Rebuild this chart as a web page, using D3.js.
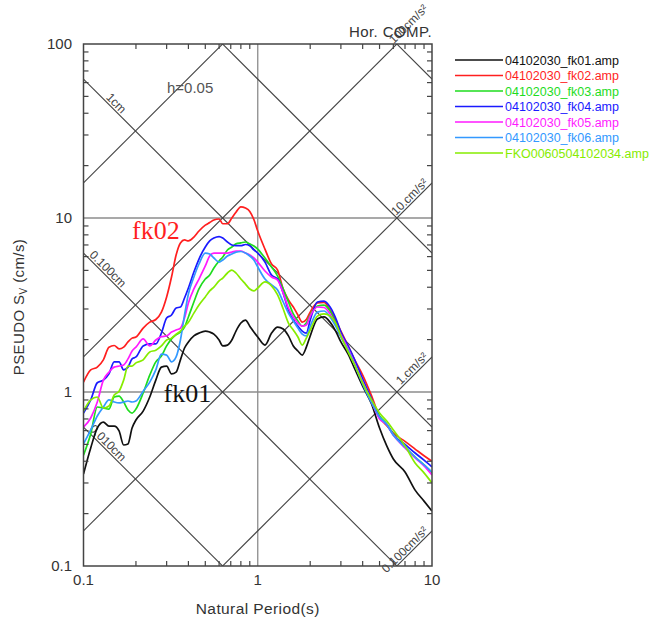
<!DOCTYPE html>
<html>
<head>
<meta charset="utf-8">
<script src="https://cdn.jsdelivr.net/npm/d3@7"></script>
<style>
	body { margin: 0; background: #fff; }
	svg { display: block; font-family: "Liberation Sans", Arial, sans-serif; }
</style>
</head>
<body>
<svg id="chart" width="649" height="617"></svg>
<script>
// natural periods (s) shared by every spectrum
const periods = [0.10, 0.11, 0.12, 0.13, 0.14, 0.15, 0.16, 0.17, 0.18, 0.19, 0.20,
	0.22, 0.24, 0.26, 0.28, 0.30, 0.32, 0.34, 0.36, 0.38, 0.40,
	0.43, 0.46, 0.50, 0.53, 0.56, 0.60, 0.63, 0.67, 0.71, 0.75, 0.80, 0.85, 0.90, 0.95,
	1.0, 1.1, 1.2, 1.3, 1.4, 1.5, 1.6, 1.7, 1.8, 1.9, 2.0,
	2.2, 2.4, 2.6, 2.8, 3.0,
	3.3, 3.6, 4.0, 4.5, 5.0, 5.5, 6.0,
	7.0, 8.0, 9.0, 10.0];

// pseudo velocity response (cm/s)
const fk01 = [0.338, 0.477, 0.621, 0.672, 0.637, 0.637, 0.597, 0.496, 0.503, 0.621, 0.69,
	0.777, 0.936, 1.17, 1.39, 1.41, 1.27, 1.30, 1.53, 1.79, 1.94,
	2.10, 2.18, 2.24, 2.21, 2.15, 1.99, 1.84, 1.86, 1.99, 2.24, 2.49, 2.59, 2.39, 2.21,
	2.07, 1.86, 2.18, 2.36, 2.30, 2.10, 1.84, 1.72, 1.63, 1.81, 2.10,
	2.63, 2.70, 2.52, 2.24, 1.94,
	1.65, 1.36, 1.08, 0.853, 0.621, 0.49, 0.412,
	0.347, 0.273, 0.236, 0.207];
const fk02 = [1.14, 1.34, 1.39, 1.53, 1.81, 1.85, 1.77, 1.81, 1.94, 2.04, 2.07,
	2.33, 2.52, 2.61, 2.88, 3.52, 4.58, 6.13, 7.19, 7.48, 7.38,
	7.77, 8.42, 9.1, 9.42, 9.74, 9.87, 9.27, 9.27, 10.0, 10.8, 11.6, 11.4, 10.9, 9.8,
	8.42, 6.63, 5.44, 5.02, 3.9, 3.38, 3.08, 2.77, 2.52, 2.61, 2.88,
	3.25, 3.27, 2.96, 2.59, 2.24,
	1.84, 1.53, 1.25, 0.95, 0.72, 0.64, 0.58,
	0.52, 0.47, 0.43, 0.40];
const fk03 = [0.434, 0.574, 0.82, 0.809, 0.798, 0.936, 0.948, 0.876, 0.788, 0.757, 0.798,
	0.987, 1.25, 1.49, 1.61, 1.84, 2.02, 2.13, 2.21, 2.36, 2.70,
	3.29, 3.91, 4.46, 4.70, 5.16, 5.66, 5.97, 6.55, 6.81, 7.10, 7.19, 7.28, 7.10, 6.90,
	6.63, 5.89, 5.23, 4.64, 3.91, 3.29, 2.81, 2.56, 2.39, 2.49, 2.77,
	3.12, 3.16, 2.92, 2.49, 2.15,
	1.74, 1.43, 1.13, 0.888, 0.728, 0.655, 0.574,
	0.483, 0.423, 0.381, 0.343];
const fk04 = [0.757, 0.90, 1.13, 1.17, 1.27, 1.49, 1.49, 1.34, 1.39, 1.55, 1.59,
	1.84, 1.89, 1.89, 2.18, 2.66, 2.77, 3.04, 3.08, 3.47, 3.96,
	4.89, 5.81, 6.81, 7.38, 7.67, 7.82, 7.67, 7.28, 6.99, 6.93, 6.93, 7.04, 6.93, 6.55,
	6.29, 5.58, 4.70, 4.46, 3.70, 2.96, 2.59, 2.39, 2.24, 2.18, 2.59,
	3.29, 3.33, 3.08, 2.66, 2.21,
	1.84, 1.53, 1.19, 0.91, 0.71, 0.65, 0.566,
	0.50, 0.446, 0.406, 0.371];
const fk05 = [0.629, 0.709, 0.876, 1.17, 1.30, 1.39, 1.41, 1.43, 1.55, 1.72, 1.81,
	2.02, 1.84, 1.99, 2.08, 2.10, 2.21, 2.27, 2.33, 2.66, 3.25,
	3.91, 4.46, 5.30, 6.05, 6.29, 6.29, 6.29, 6.29, 6.37, 6.46, 6.46, 6.29, 6.13, 5.89,
	5.58, 4.96, 4.58, 4.40, 3.70, 3.04, 2.70, 2.49, 2.39, 2.43, 2.73,
	3.08, 3.06, 2.81, 2.43, 2.13,
	1.77, 1.45, 1.14, 0.876, 0.70, 0.65, 0.566,
	0.477, 0.418, 0.376, 0.333];
const fk06 = [0.503, 0.605, 0.728, 0.82, 0.90, 0.876, 0.865, 0.876, 0.888, 0.876, 0.888,
	1.01, 1.14, 1.34, 1.65, 1.63, 1.49, 1.59, 1.99, 2.77, 3.66,
	4.58, 5.44, 6.29, 6.21, 5.89, 5.58, 5.74, 6.05, 6.21, 6.37, 6.42, 6.29, 6.05, 5.74,
	5.23, 4.46, 4.12, 3.86, 3.29, 2.84, 2.56, 2.33, 2.15, 2.10, 2.39,
	2.88, 2.92, 2.70, 2.39, 2.07,
	1.74, 1.43, 1.11, 0.865, 0.718, 0.65, 0.566,
	0.483, 0.423, 0.381, 0.347];
const fko006 = [0.777, 0.90, 0.936, 0.809, 0.831, 0.961, 1.01, 1.17, 1.41, 1.41, 1.47,
	1.53, 1.70, 1.74, 1.84, 1.99, 2.04, 2.15, 2.24, 2.39, 2.52,
	2.84, 3.16, 3.52, 3.81, 4.01, 4.35, 4.52, 4.83, 5.02, 4.83, 4.46, 4.17, 3.91, 3.81,
	3.96, 4.29, 4.07, 3.61, 3.00, 2.49, 2.27, 2.07, 1.86, 2.04, 2.27,
	2.73, 2.81, 2.73, 2.49, 2.10,
	1.70, 1.43, 1.13, 0.90, 0.757, 0.681, 0.605,
	0.49, 0.391, 0.343, 0.30];

const seriesNames = ['04102030_fk01.amp', '04102030_fk02.amp', '04102030_fk03.amp',
	'04102030_fk04.amp', '04102030_fk05.amp', '04102030_fk06.amp', 'FKO0060504102034.amp'];
const seriesValues = [fk01, fk02, fk03, fk04, fk05, fk06, fko006];

// tripartite guide lines
const dispLevels = [0.01, 0.1, 1, 10, 100];          // cm
const dispTexts = ['0.010cm', '0.100cm', '1cm', '', ''];
const accLevels = [0.1, 1, 10, 100, 1000];           // cm/s2
const accTexts = ['0.100cm/s\u00b2', '1.cm/s\u00b2', '10.cm/s\u00b2', '100cm/s\u00b2', ''];

const periodTicks = [0.1, 1, 10];
const velocityTicks = [0.1, 1, 10, 100];

const colors = ['#111111', '#ff1f1f', '#1edc1e', '#1a1aff', '#ff1aff', '#3399ff', '#86ec00'];

const svg = d3.select('#chart');
const pLeft = 83.5, pRight = 432, pTop = 44, pBottom = 566;

const x = d3.scaleLog().domain([0.1, 10]).range([pLeft, pRight]);
const y = d3.scaleLog().domain([0.1, 100]).range([pBottom, pTop]);

function minorTicks(lo, hi) {
	const out = [];
	for (let e = Math.floor(Math.log10(lo)); e < Math.log10(hi); e++) {
		for (let k = 2; k <= 9; k++) {
			const v = k * Math.pow(10, e);
			if (v > lo && v < hi) out.push(v);
		}
	}
	return out;
}

svg.append('clipPath').attr('id', 'plot')
	.append('rect')
	.attr('x', pLeft).attr('y', pTop)
	.attr('width', pRight - pLeft).attr('height', pBottom - pTop);

// decade grid
const grid = svg.append('g').attr('stroke', '#8c8c8c').attr('stroke-width', 1.3);
grid.selectAll('.gx').data([1]).enter().append('line')
	.attr('x1', d => x(d)).attr('x2', d => x(d))
	.attr('y1', pTop).attr('y2', pBottom);
grid.selectAll('.gy').data([1, 10]).enter().append('line')
	.attr('x1', pLeft).attr('x2', pRight)
	.attr('y1', d => y(d)).attr('y2', d => y(d));

// displacement and acceleration lines
const guides = svg.append('g')
	.attr('clip-path', 'url(#plot)')
	.attr('stroke', '#444').attr('stroke-width', 1.1).attr('fill', 'none');
const tLo = 0.1, tHi = 10;
guides.selectAll('.disp').data(dispLevels).enter().append('line')
	.attr('x1', x(tLo)).attr('y1', d => y(2 * Math.PI * d / tLo))
	.attr('x2', x(tHi)).attr('y2', d => y(2 * Math.PI * d / tHi));
guides.selectAll('.acc').data(accLevels).enter().append('line')
	.attr('x1', x(tLo)).attr('y1', d => y(d * tLo / (2 * Math.PI)))
	.attr('x2', x(tHi)).attr('y2', d => y(d * tHi / (2 * Math.PI)));

const guideText = svg.append('g')
	.attr('font-size', '12px').attr('fill', '#444');
const dispEnd = x.invert(120);
guideText.selectAll('.dl').data(dispLevels.filter((d, i) => dispTexts[i])).enter().append('text')
	.attr('text-anchor', 'end')
	.attr('transform', d => {
		const px = x(dispEnd), py = y(2 * Math.PI * d / dispEnd);
		return `translate(${px},${py}) rotate(45) translate(0,-2)`;
	})
	.text(d => dispTexts[dispLevels.indexOf(d)]);
const accEnd = x.invert(430);
guideText.selectAll('.al').data(accLevels.filter((d, i) => accTexts[i])).enter().append('text')
	.attr('text-anchor', 'end')
	.attr('transform', d => {
		const px = x(accEnd), py = y(d * accEnd / (2 * Math.PI));
		return `translate(${px},${py}) rotate(-45) translate(0,-2)`;
	})
	.text(d => accTexts[accLevels.indexOf(d)]);

// spectra
const line = d3.line()
	.x(d => x(d[0]))
	.y(d => y(d[1]))
	.curve(d3.curveMonotoneX);

svg.append('g').attr('clip-path', 'url(#plot)')
	.selectAll('path')
	.data(seriesValues)
	.enter().append('path')
	.attr('fill', 'none')
	.attr('stroke', (d, i) => colors[i])
	.attr('stroke-width', 1.7)
	.attr('stroke-linejoin', 'round')
	.attr('d', d => line(d3.zip(periods, d)));

// frame and inward ticks
svg.append('rect')
	.attr('x', pLeft).attr('y', pTop)
	.attr('width', pRight - pLeft).attr('height', pBottom - pTop)
	.attr('fill', 'none').attr('stroke', '#444').attr('stroke-width', 1.5);

const ticks = svg.append('g').attr('stroke', '#444').attr('stroke-width', 1.2);
const xMinor = minorTicks(0.1, 10);
const yMinor = minorTicks(0.1, 100);
ticks.selectAll('.tb').data(xMinor).enter().append('line')
	.attr('x1', d => x(d)).attr('x2', d => x(d)).attr('y1', pBottom).attr('y2', pBottom - 5);
ticks.selectAll('.tt').data(xMinor).enter().append('line')
	.attr('x1', d => x(d)).attr('x2', d => x(d)).attr('y1', pTop).attr('y2', pTop + 5);
ticks.selectAll('.tl').data(yMinor).enter().append('line')
	.attr('y1', d => y(d)).attr('y2', d => y(d)).attr('x1', pLeft).attr('x2', pLeft + 5);
ticks.selectAll('.tr').data(yMinor).enter().append('line')
	.attr('y1', d => y(d)).attr('y2', d => y(d)).attr('x1', pRight).attr('x2', pRight - 5);

// tick labels
const fmt = d3.format('~g');
svg.append('g').attr('font-size', '15px').attr('fill', '#333')
	.selectAll('text').data(periodTicks).enter().append('text')
	.attr('x', d => x(d)).attr('y', 585)
	.attr('text-anchor', 'middle')
	.text(d => fmt(d));
svg.append('g').attr('font-size', '15px').attr('fill', '#333')
	.selectAll('text').data(velocityTicks).enter().append('text')
	.attr('x', 72).attr('y', d => y(d) + 5)
	.attr('text-anchor', 'end')
	.text(d => fmt(d));

// titles
svg.append('text')
	.attr('x', (pLeft + pRight) / 2).attr('y', 614)
	.attr('text-anchor', 'middle')
	.attr('font-size', '15.5px').attr('fill', '#333')
	.attr('letter-spacing', '0.4px')
	.text('Natural Period(s)');

const ytitle = svg.append('text')
	.attr('transform', 'translate(24,307) rotate(-90)')
	.attr('text-anchor', 'middle')
	.attr('font-size', '15px').attr('fill', '#333')
	.attr('letter-spacing', '0.4px');
ytitle.append('tspan').text('PSEUDO S');
ytitle.append('tspan').attr('font-size', '10px').attr('dy', 3).text('V');
ytitle.append('tspan').attr('dy', -3).text(' (cm/s)');

svg.append('text')
	.attr('x', 432).attr('y', 37)
	.attr('text-anchor', 'end')
	.attr('font-size', '15px').attr('fill', '#333')
	.attr('letter-spacing', '0.4px')
	.text('Hor. COMP.');

svg.append('text')
	.attr('x', 167).attr('y', 93)
	.attr('font-size', '15px').attr('fill', '#555')
	.text('h=0.05');

// station callouts
svg.append('text')
	.attr('x', x(0.19)).attr('y', y(7.6))
	.attr('font-family', '"Liberation Serif", "Times New Roman", serif')
	.attr('font-size', '26px').attr('fill', '#ff1f1f')
	.text('fk02');
svg.append('text')
	.attr('x', x(0.288)).attr('y', y(0.88))
	.attr('font-family', '"Liberation Serif", "Times New Roman", serif')
	.attr('font-size', '26px').attr('fill', '#111')
	.text('fk01');

// legend
const legend = svg.append('g')
	.selectAll('g')
	.data(seriesNames)
	.enter().append('g')
	.attr('transform', (d, i) => `translate(455,${60 + i * 15.5})`);
legend.append('line')
	.attr('x1', 0).attr('x2', 48)
	.attr('stroke', (d, i) => colors[i])
	.attr('stroke-width', 1.6);
legend.append('text')
	.attr('x', 50).attr('y', 4.5)
	.attr('font-size', '12.5px')
	.attr('fill', (d, i) => colors[i])
	.text(d => d);
</script>
</body>
</html>
